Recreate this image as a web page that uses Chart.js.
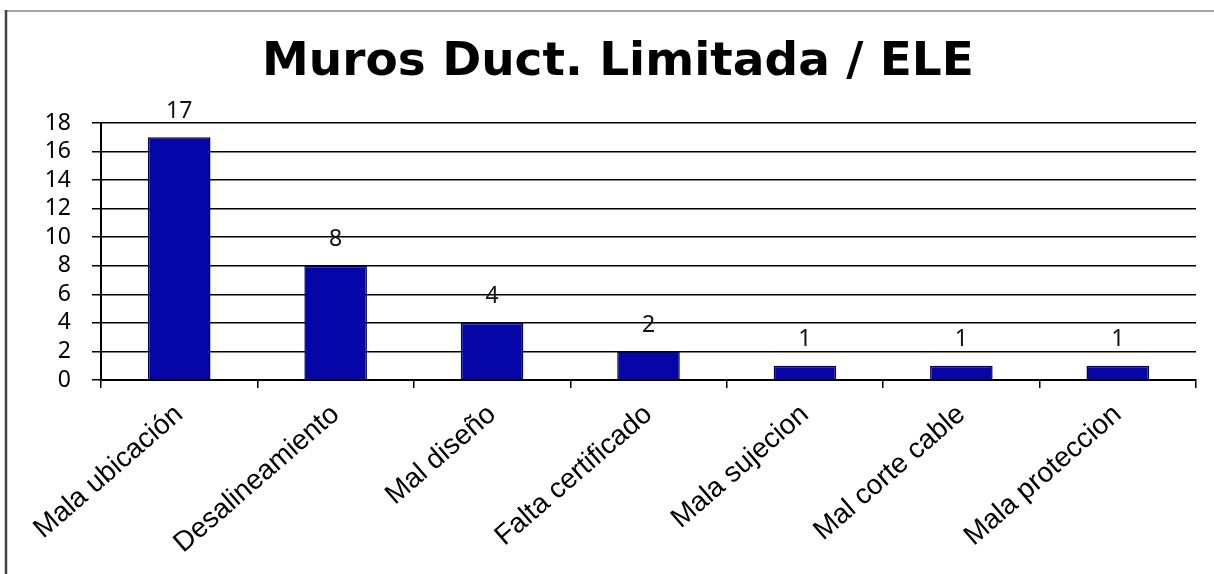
<!DOCTYPE html>
<html>
<head>
<meta charset="utf-8">
<script src="https://cdn.jsdelivr.net/npm/chart.js@4"></script>
<style>
  html, body { margin: 0; padding: 0; background: #fff; }
  canvas { display: block; }
</style>
</head>
<body>
<canvas id="grafico" width="1214" height="574"></canvas>
<script>
// Datos del gráfico
const categorias = ['Mala ubicación', 'Desalineamiento', 'Mal diseño', 'Falta certificado',
                    'Mala sujecion', 'Mal corte cable', 'Mala proteccion'];
const valores = [17, 8, 4, 2, 1, 1, 1];
const titulo = 'Muros Duct. Limitada / ELE';
const ejeY = { min: 0, max: 18, paso: 2 };

// Marco del gráfico y título
const marco = {
  id: 'marco',
  beforeDraw(chart) {
    const ctx = chart.ctx;
    ctx.save();
    ctx.fillStyle = '#fff';
    ctx.fillRect(0, 0, chart.width, chart.height);
    ctx.strokeStyle = '#8a8a8a';
    ctx.lineWidth = 1.5;
    ctx.beginPath();
    ctx.moveTo(6, 11);
    ctx.lineTo(chart.width, 11);
    ctx.stroke();
    ctx.strokeStyle = '#444';
    ctx.lineWidth = 2.5;
    ctx.beginPath();
    ctx.moveTo(6, 10);
    ctx.lineTo(6, chart.height);
    ctx.stroke();

    ctx.font = 'bold 47px "DejaVu Sans"';
    ctx.fillStyle = '#000';
    ctx.textAlign = 'center';
    ctx.textBaseline = 'middle';
    ctx.fillText(titulo, 618, 63);
    ctx.restore();
  }
};

// Etiquetas de valor encima de cada barra
const etiquetas = {
  id: 'etiquetas',
  afterDatasetsDraw(chart) {
    const ctx = chart.ctx;
    const meta = chart.getDatasetMeta(0);
    ctx.save();
    ctx.font = '23px "Noto Sans"';
    ctx.fillStyle = '#111';
    ctx.textAlign = 'center';
    ctx.textBaseline = 'middle';
    meta.data.forEach((barra, i) => {
      ctx.fillText(String(valores[i]), barra.x, barra.y - 26);
    });
    ctx.restore();
  }
};

new Chart(document.getElementById('grafico').getContext('2d'), {
  type: 'bar',
  data: {
    labels: categorias,
    datasets: [{
      data: valores,
      backgroundColor: '#0606a8',
      borderColor: '#000060',
      borderWidth: 1.5,
      categoryPercentage: 0.8,
      barPercentage: 0.5
    }]
  },
  options: {
    responsive: false,
    animation: false,
    layout: { padding: { left: 0, right: 18, top: 123, bottom: 0 } },
    plugins: {
      legend: { display: false },
      tooltip: { enabled: false },
      title: { display: false }
    },
    scales: {
      x: {
        afterFit(scale) { scale.height = 194; },
        border: { display: true, color: '#000', width: 2 },
        grid: { offset: true, drawOnChartArea: false, drawTicks: true, tickLength: 8, color: '#000', lineWidth: 1.5 },
        ticks: {
          color: '#000',
          font: { family: '"Liberation Sans"', size: 28 },
          minRotation: 41,
          maxRotation: 41,
          padding: 10,
          autoSkip: false
        }
      },
      y: {
        min: ejeY.min,
        max: ejeY.max,
        afterFit(scale) { scale.width = 101; },
        border: { display: true, color: '#000', width: 2 },
        grid: { color: '#000', lineWidth: 1.5, drawTicks: true, tickLength: 9 },
        ticks: {
          stepSize: ejeY.paso,
          autoSkip: false,
          color: '#000',
          padding: 21,
          font: { family: '"Noto Sans"', size: 23 }
        }
      }
    }
  },
  plugins: [marco, etiquetas]
});
</script>
</body>
</html>
